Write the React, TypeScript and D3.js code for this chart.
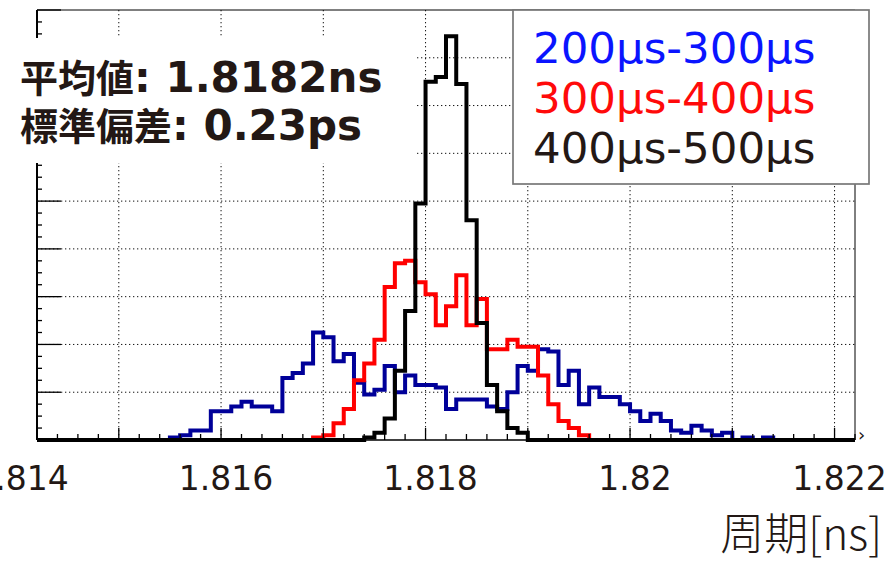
import React, { useRef, useEffect } from 'react';
import * as d3 from 'd3';

const WIDTH = 895;
const HEIGHT = 561;

// axis ranges (ns on x, entries per bin on y)
const X_MIN = 1.8142;
const X_MAX = 1.8222;
const BIN_WIDTH = 0.0001;
const Y_MAX = 180;

const xMajorTicks = [1.815, 1.816, 1.817, 1.818, 1.819, 1.82, 1.821, 1.822];
const xLabelTicks = [1.814, 1.816, 1.818, 1.82, 1.822];
const xLabels = ['1.814', '1.816', '1.818', '1.82', '1.822'];

// bin contents, listed from the low edge of the first filled bin
const blueStart = 1.8155;
const blueCounts = [
  1, 2, 4, 4, 12, 12, 14, 16, 14, 14, 12, 26, 28, 32, 45, 43, 33, 36, 24, 19,
  21, 31, 20, 27, 23, 23, 22, 13, 17, 17, 17, 14, 13, 20, 31, 29, 38, 37, 23, 29,
  15, 22, 18, 18, 15, 12, 8, 11, 8, 4, 3, 6, 4, 2, 3, 0, 1, 0, 1,
];
const redStart = 1.8169;
const redCounts = [
  1, 2, 7, 13, 25, 32, 42, 64, 74, 75, 66, 61, 48, 56, 69, 48, 59, 38, 38, 42,
  39, 39, 27, 15, 8, 5, 2,
];
const blackStart = 1.8174;
const blackCounts = [1, 3, 9, 29, 54, 99, 150, 152, 169, 149, 92, 49, 23, 12, 5, 3];

const seriesNames = ['200μs-300μs', '300μs-400μs', '400μs-500μs'];
const lineColors = ['#000099', '#ff0000', '#000000'];
const legendColors = ['#0a14ff', '#ff0a0a', '#231815'];

const statsLabels = ['平均値', '標準偏差'];
const statsValues = [': 1.8182ns', ': 0.23ps'];

const INK = '#231815';
const N_BINS = Math.round((X_MAX - X_MIN) / BIN_WIDTH);

const fillBins = (start: number, counts: number[]): number[] => {
  const offset = Math.round((start - X_MIN) / BIN_WIDTH);
  return d3.range(N_BINS).map((i) => counts[i - offset] ?? 0);
};

export default function App() {
  const svgRef = useRef<SVGSVGElement>(null);

  useEffect(() => {
    if (!svgRef.current) return;
    const svg = d3.select(svgRef.current);
    svg.selectAll('*').remove();

    const x = d3.scaleLinear().domain([X_MIN, X_MAX]).range([37, 855]);
    const y = d3.scaleLinear().domain([0, Y_MAX]).range([440, 10]);
    const [x0, x1] = x.range();
    const [y0, y1] = y.range();

    // dotted grid
    const grid = svg.append('g').attr('stroke', '#111').attr('stroke-width', 1).attr('stroke-dasharray', '1.3 2.7');
    xMajorTicks.forEach((t) => {
      grid.append('line').attr('x1', x(t)).attr('x2', x(t)).attr('y1', y1).attr('y2', y0);
    });
    d3.range(20, Y_MAX, 20).forEach((t) => {
      grid.append('line').attr('x1', x0).attr('x2', x1).attr('y1', y(t)).attr('y2', y(t));
    });

    // histograms
    const line = d3
      .line<[number, number]>()
      .x((d) => x(d[0]))
      .y((d) => y(d[1]))
      .curve(d3.curveStepAfter);

    const series = [
      fillBins(blueStart, blueCounts),
      fillBins(redStart, redCounts),
      fillBins(blackStart, blackCounts),
    ];
    series.forEach((vals, si) => {
      const pts: [number, number][] = d3
        .range(N_BINS + 1)
        .map((i) => [X_MIN + i * BIN_WIDTH, vals[Math.min(i, N_BINS - 1)]]);
      svg
        .append('path')
        .attr('d', line(pts) ?? '')
        .attr('fill', 'none')
        .attr('stroke', lineColors[si])
        .attr('stroke-width', 4);
    });

    // frame
    const frame = svg.append('g').attr('stroke', '#000');
    frame.append('line').attr('x1', x0).attr('x2', x0).attr('y1', y1).attr('y2', y0).attr('stroke-width', 2);
    frame.append('line').attr('x1', x0).attr('x2', x1).attr('y1', y0).attr('y2', y0).attr('stroke-width', 1.5);
    frame.append('line').attr('x1', x0).attr('x2', x1).attr('y1', y1).attr('y2', y1).attr('stroke-width', 1);
    frame.append('line').attr('x1', x1).attr('x2', x1).attr('y1', y1).attr('y2', y0).attr('stroke-width', 1);

    // x ticks
    d3.range(0, 41).forEach((i) => {
      const v = X_MIN + i * 0.0002;
      const major = xMajorTicks.some((t) => Math.abs(t - v) < 1e-7);
      frame
        .append('line')
        .attr('x1', x(v))
        .attr('x2', x(v))
        .attr('y1', y0)
        .attr('y2', y0 - (major ? 12 : 6))
        .attr('stroke-width', 1.3);
    });
    // y ticks
    d3.range(0, Y_MAX + 1, 5).forEach((v) => {
      const major = v % 20 === 0;
      frame
        .append('line')
        .attr('x1', x0)
        .attr('x2', x0 + (major ? 24 : 5))
        .attr('y1', y(v))
        .attr('y2', y(v))
        .attr('stroke-width', 1.3);
    });

    svg
      .append('text')
      .attr('x', 858)
      .attr('y', 441)
      .attr('font-family', 'DejaVu Sans')
      .attr('font-size', 18)
      .attr('fill', INK)
      .text('›');

    // x tick labels
    xLabelTicks.forEach((t, i) => {
      svg
        .append('text')
        .attr('x', x(t) + 5)
        .attr('y', 490)
        .attr('text-anchor', 'middle')
        .attr('font-family', 'DejaVu Sans')
        .attr('font-size', 33)
        .attr('fill', INK)
        .text(xLabels[i]);
    });

    // axis title
    svg
      .append('text')
      .attr('x', 882)
      .attr('y', 550)
      .attr('text-anchor', 'end')
      .attr('font-family', 'Noto Sans CJK JP')
      .attr('font-weight', 300)
      .attr('font-size', 44)
      .attr('fill', INK)
      .text('周期[ns]');

    // stats box
    svg.append('rect').attr('x', 0).attr('y', 38).attr('width', 415).attr('height', 125).attr('fill', '#fff');
    statsLabels.forEach((lab, i) => {
      const t = svg
        .append('text')
        .attr('x', 20)
        .attr('y', 92 + i * 48)
        .attr('fill', INK)
        .attr('font-weight', 'bold');
      t.append('tspan').attr('font-family', 'Noto Sans CJK JP').attr('font-size', 38).text(lab);
      t.append('tspan').attr('font-family', 'DejaVu Sans').attr('font-size', 42).text(statsValues[i]);
    });

    // legend
    svg
      .append('rect')
      .attr('x', 513)
      .attr('y', 10)
      .attr('width', 356)
      .attr('height', 174)
      .attr('fill', '#fff')
      .attr('stroke', '#777')
      .attr('stroke-width', 1.7);
    seriesNames.forEach((name, i) => {
      svg
        .append('text')
        .attr('x', 533)
        .attr('y', 63 + i * 50)
        .attr('font-family', 'DejaVu Sans')
        .attr('font-size', 43.5)
        .attr('fill', legendColors[i])
        .text(name);
    });
  }, []);

  return (
    <svg
      ref={svgRef}
      width={WIDTH}
      height={HEIGHT}
      style={{ position: 'absolute', left: 0, top: 0, background: '#fff' }}
    />
  );
}
